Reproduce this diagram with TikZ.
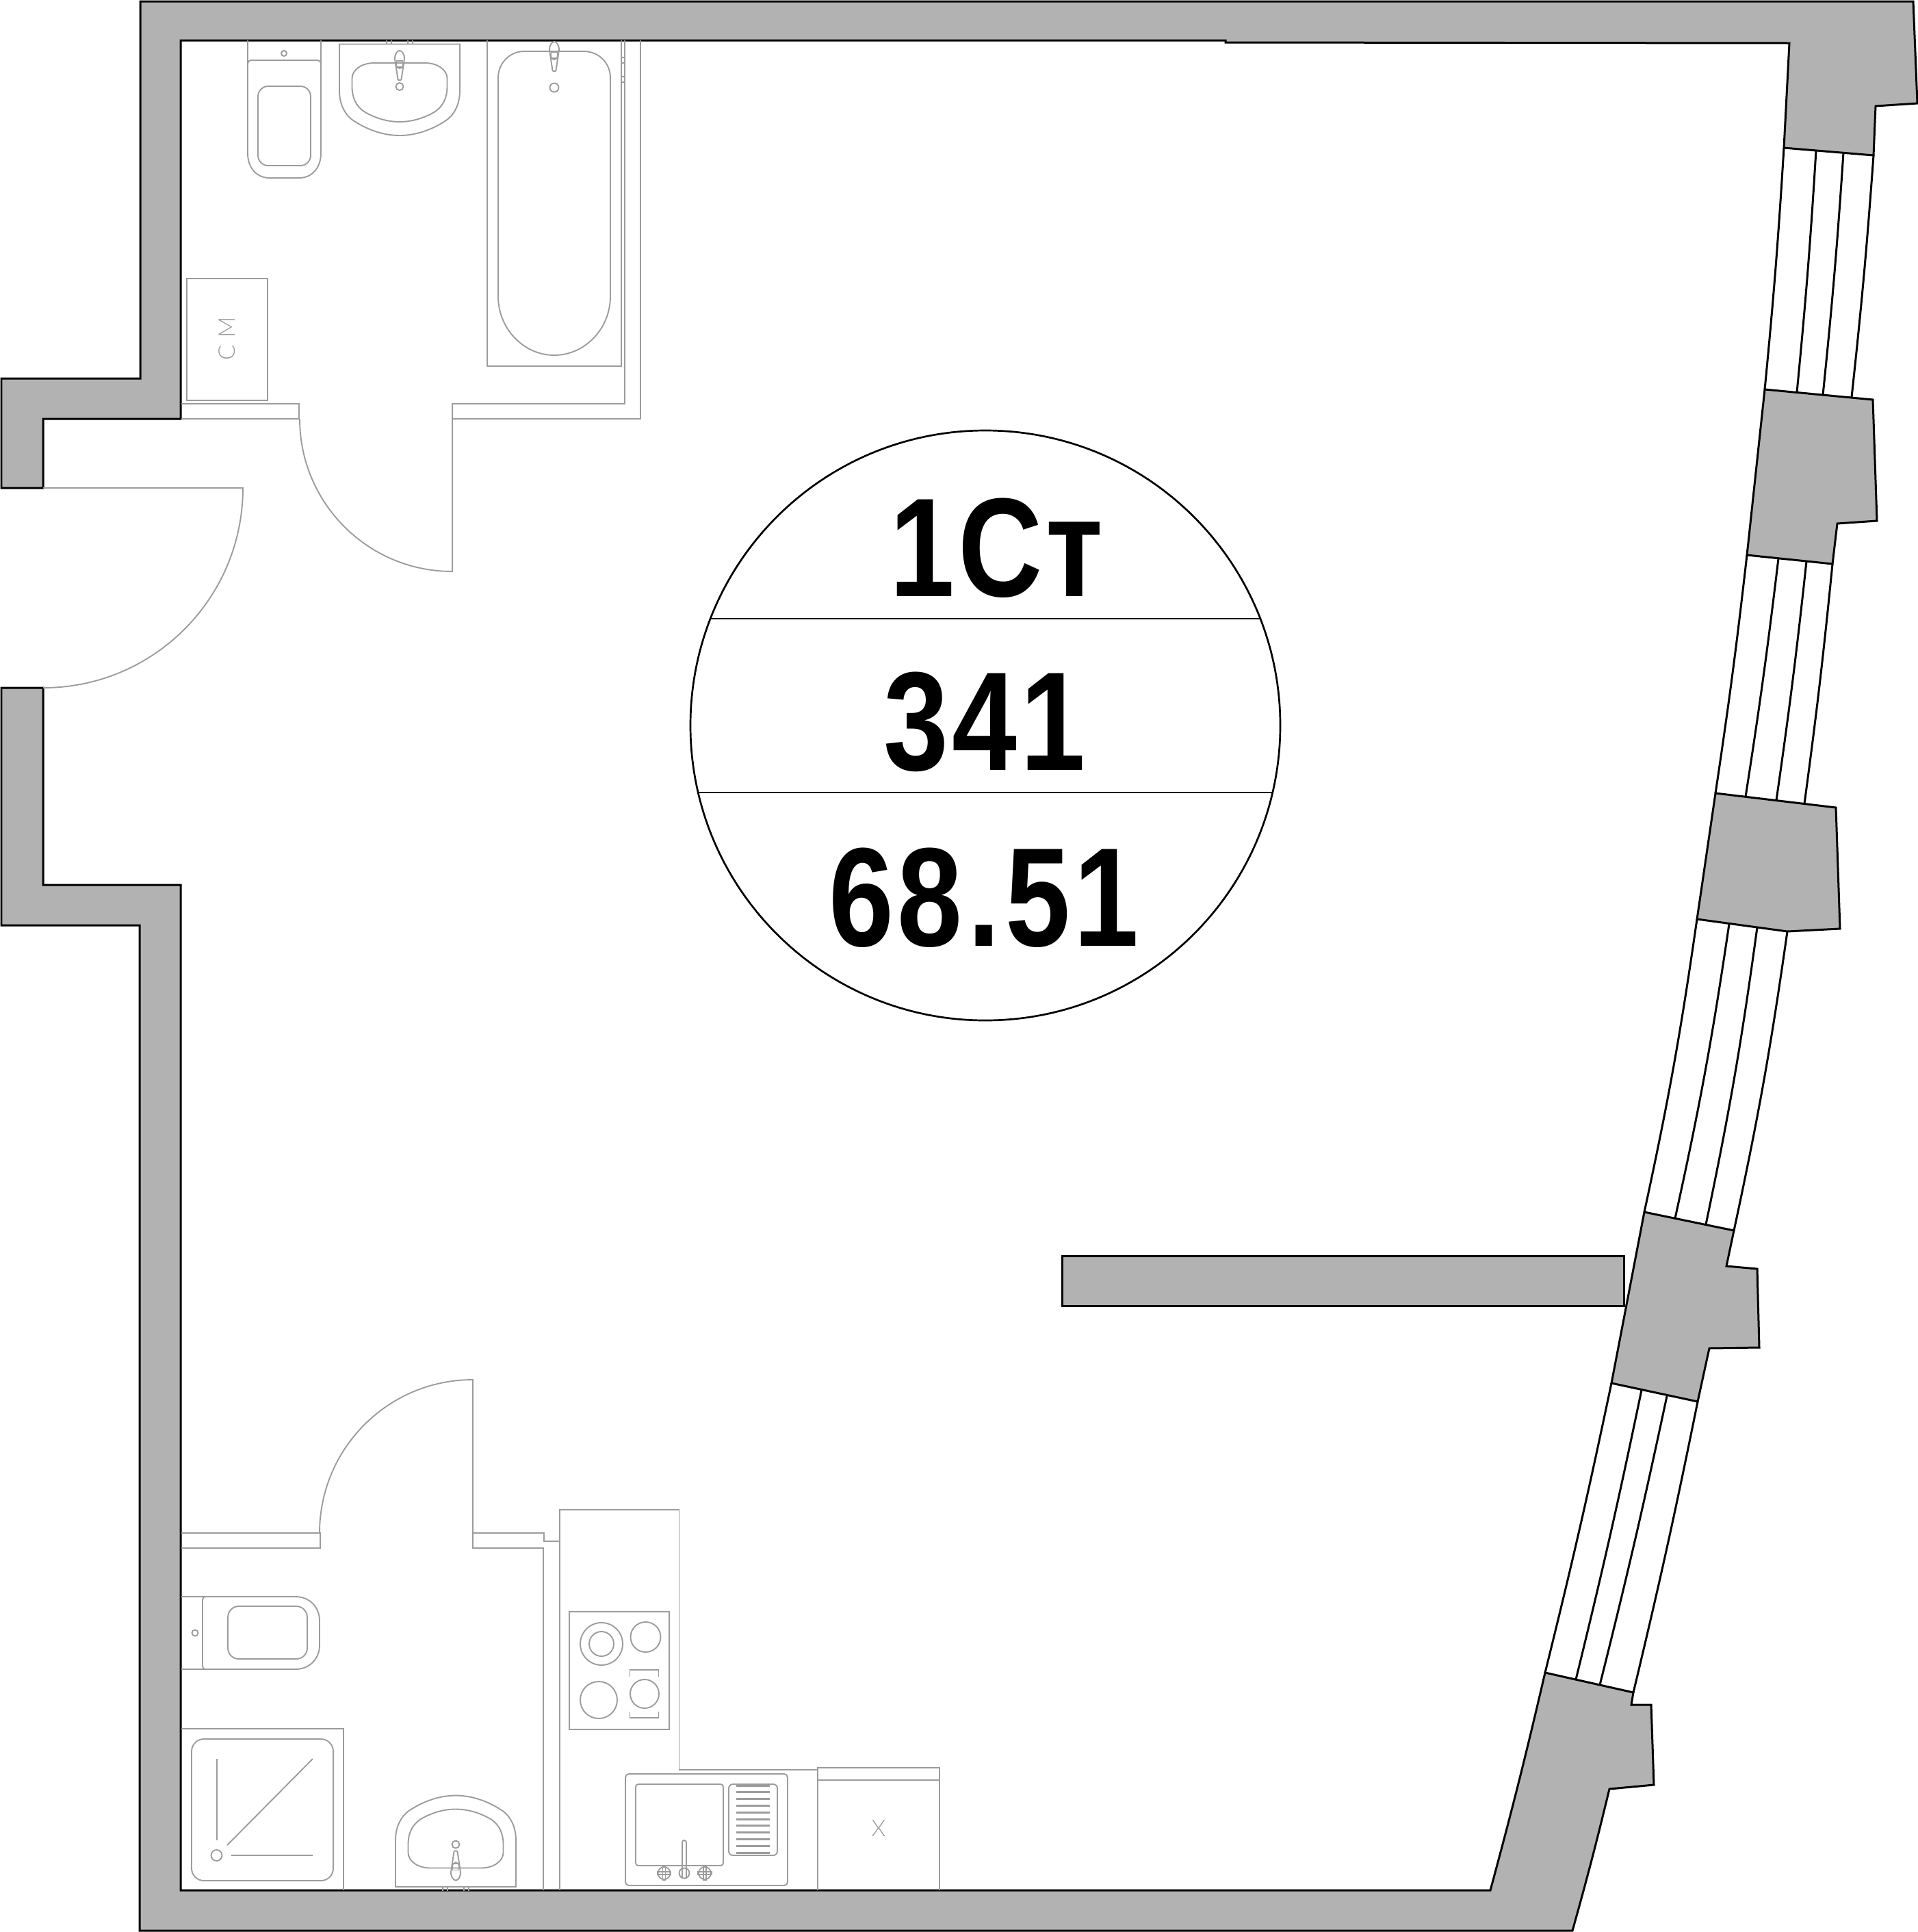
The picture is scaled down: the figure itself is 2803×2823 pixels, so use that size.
\documentclass[tikz,border=0pt]{standalone}
\usepackage{fontspec}
\newfontfamily\plannum[FakeStretch=0.83, LetterSpace=2.5]{Liberation Sans}
\newfontfamily\plansmall{Lato Light}
\definecolor{wallgrey}{HTML}{B2B2B2}
\definecolor{itemgrey}{HTML}{9C9C9C}
\tikzset{
  wall/.style={draw=black, fill=wallgrey, line width=0.3mm, line join=miter},
  pane/.style={draw=black, line width=0.3mm},
  item/.style={draw=itemgrey, line width=0.19mm},
  bignum/.style={anchor=base, inner sep=0pt, font=\plannum\bfseries\fontsize{58.5}{70}\selectfont},
  faucet/.pic={
    \draw[item] (-2.5,42) -- (-7,12) .. controls (-7,4) and (-3,0) .. (0,0) .. controls (3,0) and (7,4) .. (7,12) -- (2.5,42) .. controls (2,43.5) and (-2,43.5) .. cycle;
    \draw[item] (-4.5,15) rectangle (4.5,24);
    \draw[item] (-5,20) .. controls (-5,28) and (5,28) .. (5,20);
  },
  basin/.pic={
    \draw[item] (-88,0) -- (88,0) -- (88,68) .. controls (88,88) and (80,102) .. (70,110) .. controls (50,124) and (25,133.5) .. (0,133.5)
      .. controls (-25,133.5) and (-50,124) .. (-70,110) .. controls (-80,102) and (-88,88) .. (-88,68) -- cycle;
    \draw[item] (-37,27.5) -- (37,27.5) .. controls (56,27.5) and (69.5,38) .. (69.5,50) -- (69.5,62) .. controls (69.5,78) and (64,90) .. (52,98.5) .. controls (36,108) and (18,113.5) .. (0,113.5)
      .. controls (-18,113.5) and (-36,108) .. (-52,98.5) .. controls (-64,90) and (-69.5,78) .. (-69.5,62) -- (-69.5,50) .. controls (-69.5,38) and (-56,27.5) .. (-37,27.5) -- cycle;
    \pic[transform shape] at (0,9.5) {faucet};
    \draw[item] (0,62) circle (5.5);
    \draw[item] (-19,-5.5) -- (-19,0) (-12,-5.5) -- (-12,0) (12,-5.5) -- (12,0) (19,-5.5) -- (19,0);
  },
  tap/.pic={
    \draw[item] (0,0) circle (9);
    \draw[item] (-2,-10) rectangle (2,10) (-10,-2) rectangle (10,2);
  }
}

\begin{document}
\begin{tikzpicture}[x=0.1mm, y=-0.1mm]
  \useasboundingbox (0,0) rectangle (2803,2823);

  % window frames
  \draw[pane] (2607,216) to[bend left=1] (2579,569);
  \draw[pane] (2654,220) to[bend left=1] (2626,573);
  \draw[pane] (2694,223) to[bend left=1] (2664,577);
  \draw[pane] (2738,227) to[bend left=1] (2706,580);

  \draw[pane] (2553,811) to[bend left=1] (2507,1159);
  \draw[pane] (2599,816) to[bend left=1] (2551,1164);
  \draw[pane] (2640,820) to[bend left=1] (2596,1169);
  \draw[pane] (2678,824) to[bend left=1] (2637,1174);

  \draw[pane] (2480,1343) to[bend left=2] (2403,1771);
  \draw[pane] (2527,1350) to[bend left=2] (2448,1780);
  \draw[pane] (2568,1355) to[bend left=2] (2493,1789);
  \draw[pane] (2612,1361) to[bend left=2] (2534,1798);

  \draw[pane] (2355,2021) to[bend left=1] (2258,2444);
  \draw[pane] (2399,2031) to[bend left=1] (2303,2454);
  \draw[pane] (2436,2040) to[bend left=1] (2338,2462);
  \draw[pane] (2481,2048) to[bend left=1] (2387,2473);

  % walls
  \draw[wall] (205,2) -- (2796,2) -- (2802,151) -- (2741,155) -- (2738,227) -- (2607,216) -- (2615,63) -- (1791,62) -- (1791,59) -- (264,59) -- (264,612) -- (63,612) -- (63,713) -- (2,713) -- (2,553) -- (205,553) -- cycle;
  \draw[wall] (2,1005) -- (63,1005) -- (63,1293) -- (264,1293) -- (264,2762) -- (2178,2762) to[bend right=1] (2258,2444) -- (2387,2473) -- (2384,2491) -- (2413,2491) -- (2417,2608) -- (2352,2614) to[bend left=1] (2298,2821) -- (204,2821) -- (204,1352) -- (2,1352) -- cycle;
  \draw[wall] (2579,569) -- (2737,584) -- (2743,761) -- (2685,765) -- (2678,824) -- (2553,811) -- cycle;
  \draw[wall] (2507,1159) -- (2683,1180) -- (2689,1357) -- (2612,1361) -- (2480,1343) -- cycle;
  \draw[wall] (2403,1771) -- (2534,1798) -- (2523,1850) -- (2568,1854) -- (2571,1969) -- (2498,1970) -- (2481,2048) -- (2355,2021) -- cycle;
  \draw[wall] (1552,1835) rectangle (2373,1908);

  % partitions and doors
  \draw[item] (265,590) -- (437,590) -- (437,612) -- (265,612);
  \draw[item] (438,612) arc[start angle=180, end angle=90, radius=223] -- (661,590) -- (913,590) -- (913,59);
  \draw[item] (661,612) -- (936,612) -- (936,59);
  \draw[item] (63,713) -- (355,713) arc[start angle=0, end angle=90, radius=292];
  \draw[item] (265,2240) -- (468,2240) -- (468,2262) -- (265,2262);
  \draw[item] (467,2240) arc[start angle=180, end angle=270, radius=224] -- (691,2262) -- (794,2262) -- (794,2762);
  \draw[item] (691,2240) -- (795,2240) -- (795,2252) -- (818,2252);
  \draw[item] (908,84) rectangle (913,92) (908,112) rectangle (913,120);

  % bath room
  \draw[item] (362,59) -- (362,224) .. controls (362,245) and (375,260) .. (394,260) -- (437,260) .. controls (456,260) and (469,245) .. (469,224) -- (469,59);
  \draw[item] (362,93) .. controls (362,90) and (364,88) .. (367,88) -- (464,88) .. controls (467,88) and (469,90) .. (469,93);
  \draw[item, rounded corners=1.5mm] (377,126) rectangle (454,242);
  \draw[item] (415,78) circle (4);
  \pic at (584,64.5) {basin};
  \draw[item] (712,59) -- (712,535) -- (908,535) -- (908,59);
  \draw[item] (728,114) .. controls (728,92) and (745,75) .. (766,75) -- (853,75) .. controls (875,75) and (892,92) .. (892,114) -- (892,433) .. controls (892,480) and (855,519) .. (810,519) .. controls (765,519) and (728,480) .. (728,433) -- cycle;
  \pic at (810,61) {faucet};
  \draw[item] (810,128) circle (6.5);
  \draw[item] (273,407) rectangle (391,585);
  \node[rotate=90, text=itemgrey, inner sep=0pt, font=\plansmall\fontsize{9.5}{11}\selectfont] (washer) at (332,495) {С\kern0.3em М};

  % wc and shower
  \draw[item] (265,2333) -- (432,2333) .. controls (452,2333) and (467,2348) .. (467,2368) -- (467,2404) .. controls (467,2424) and (452,2439) .. (432,2439) -- (265,2439);
  \draw[item] (301,2333) .. controls (297,2333) and (296,2335) .. (296,2338) -- (296,2434) .. controls (296,2437) and (297,2439) .. (301,2439);
  \draw[item, rounded corners=1.6mm] (333,2347) rectangle (449,2424);
  \draw[item] (285,2386) circle (4.5);
  \draw[item] (265,2526) -- (502,2526) -- (502,2762);
  \draw[item, rounded corners=1.8mm] (280,2541) rectangle (487,2748);
  \draw[item] (317,2570) -- (317,2689);
  \draw[item] (332,2696) -- (457,2570);
  \draw[item] (338,2711) -- (457,2711);
  \draw[item] (316.5,2711) circle (8);
  \pic[yscale=-1] at (666,2757) {basin};

  % kitchen
  \draw[item] (818,2762) -- (818,2206) -- (992.5,2206) -- (992.5,2586) -- (1195,2586);
  \draw[item] (832,2355) rectangle (978,2527);
  \draw[item] (879,2402) circle (31);
  \draw[item] (879,2402) circle (18);
  \draw[item] (943.5,2392) circle (22);
  \draw[item] (875,2484) circle (27);
  \draw[item] (942,2475) circle (21);
  \draw[item] (920.5,2449.5) -- (920.5,2440) -- (962.5,2440) -- (962.5,2449.5);
  \draw[item] (920.5,2501) -- (920.5,2510) -- (962.5,2510) -- (962.5,2501);
  \draw[item, rounded corners=0.5mm] (914,2592) rectangle (1151,2755);
  \draw[item, rounded corners=0.4mm] (929,2607) rectangle (1057,2726);
  \draw[item, rounded corners=0.6mm] (1065,2607) rectangle (1136,2711);
  \foreach \n in {0,...,10}
  { \draw[item, line width=0.3mm] (1076,{2609+\n*9.8}) -- (1125,{2609+\n*9.8});
  };
  \draw[item, rounded corners=0.3mm] (997,2745) -- (997,2689) -- (1003,2689) -- (1003,2745);
  \draw[item] (1000,2737) circle (7.5);
  \pic at (970.5,2737) {tap};
  \pic at (1030,2737) {tap};
  \draw[item] (1195,2762) -- (1195,2583) -- (1373,2583) -- (1373,2762);
  \draw[item] (1195,2601) -- (1373,2601);
  \node[text=itemgrey, inner sep=0pt, font=\plansmall\fontsize{9.5}{11}\selectfont] (fridge) at (1284,2672) {Х};

  % label circle
  \draw[line width=0.27mm] (1440,1060) circle (431);
  \draw[line width=0.27mm] (1039,904) -- (1842,904);
  \draw[line width=0.27mm] (1020,1158) -- (1860,1158);
  \node[bignum] (flattype) at (1456,871) {1Ст};
  \node[bignum] (flatnum) at (1439,1125) {341};
  \node[bignum] (flatarea) at (1438,1382) {68\kern.04em.\kern.04em51};
\end{tikzpicture}
\end{document}
